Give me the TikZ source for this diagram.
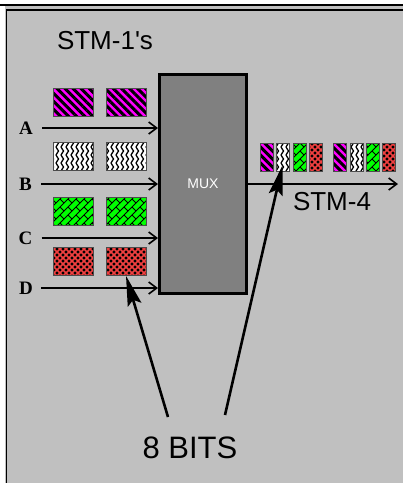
\documentclass[tikz,border=0pt]{standalone}
\usepackage{fontspec}
\setmainfont{Liberation Sans}
\newfontfamily\letterfont{Liberation Serif}
\usepackage{xcolor}
\usetikzlibrary{arrows.meta,patterns,patterns.meta}

\definecolor{panelgray}{RGB}{192,192,192}
\definecolor{muxgray}{RGB}{128,128,128}
\definecolor{bitmagenta}{RGB}{255,0,255}
\definecolor{bitgreen}{RGB}{0,255,0}
\definecolor{bitred}{RGB}{240,64,64}

% black zigzag columns
\pgfdeclarepatternformonly{zigzag}{\pgfqpoint{-1pt}{-1pt}}{\pgfqpoint{6pt}{9pt}}{\pgfqpoint{5pt}{8pt}}{
  \pgfsetlinewidth{1.3pt}
  \pgfpathmoveto{\pgfqpoint{1pt}{0pt}}
  \pgfpathlineto{\pgfqpoint{3.5pt}{4pt}}
  \pgfpathlineto{\pgfqpoint{1pt}{8pt}}
  \pgfusepath{stroke}
}
% slanted brick wall
\pgfdeclarepatternformonly{slantbricks}{\pgfqpoint{-1pt}{-1pt}}{\pgfqpoint{9pt}{9pt}}{\pgfqpoint{8pt}{8pt}}{
  \pgfsetlinewidth{0.9pt}
  \pgfpathmoveto{\pgfqpoint{0pt}{0pt}}
  \pgfpathlineto{\pgfqpoint{8pt}{8pt}}
  \pgfpathmoveto{\pgfqpoint{4pt}{4pt}}
  \pgfpathlineto{\pgfqpoint{8pt}{0pt}}
  \pgfusepath{stroke}
}
% woven strands
\pgfdeclarepatternformonly{weavegrid}{\pgfqpoint{-1pt}{-1pt}}{\pgfqpoint{7pt}{7pt}}{\pgfqpoint{6pt}{6pt}}{
  \pgfsetlinewidth{1.5pt}
  \pgfpathmoveto{\pgfqpoint{0pt}{0pt}}
  \pgfpathlineto{\pgfqpoint{6pt}{6pt}}
  \pgfpathmoveto{\pgfqpoint{0pt}{6pt}}
  \pgfpathlineto{\pgfqpoint{6pt}{0pt}}
  \pgfusepath{stroke}
}

\begin{document}
\begin{tikzpicture}[x=1pt, y=-1pt,
  cell/.style={draw=black!70, line width=0.7pt, inner sep=0pt, minimum height=28pt},
  bigcell/.style={cell, minimum width=40pt},
  slimcell/.style={cell, minimum width=13pt},
  stripes/.style={preaction={fill=bitmagenta}, pattern={Lines[angle=-45,distance=5.7pt,line width=3pt]}, pattern color=black},
  waves/.style={preaction={fill=white}, pattern=zigzag, pattern color=black},
  bricks/.style={preaction={fill=bitgreen}, pattern=slantbricks, pattern color=black},
  weave/.style={preaction={fill=black}, pattern=weavegrid, pattern color=bitred},
  letter/.style={inner sep=0pt, font=\letterfont\bfseries\fontsize{19}{20}\selectfont},
  inarrow/.style={line width=1.6pt, -{Straight Barb[length=8pt,width=12pt]}},
  bitarrow/.style={line width=2.6pt, -{Stealth[length=30pt,width=14pt,inset=5pt]}}]

\useasboundingbox (0,0) rectangle (403,483);

% panel
\fill[white] (0,0) rectangle (403,483);
\fill[panelgray] (5,5) rectangle (403,483);
\draw[line width=1.3pt] (0,5) -- (403,5);
\draw[line width=1.3pt] (6.5,483) -- (6.5,10) -- (403,10);

\node (stm1) at (105,41) {\fontsize{26}{30}\selectfont STM-1\textquotesingle s};

\node[draw, line width=3pt, fill=muxgray, minimum width=87pt, minimum height=219pt, text=white] (mux) at (203,184) {\fontsize{14}{16}\selectfont MUX};

% input bytes
\node[bigcell, stripes] (mag 1) at (73.5,102) {};
\node[bigcell, stripes] (mag 2) at (126,102) {};
\node[bigcell, waves] (wht 1) at (73.5,156.5) {};
\node[bigcell, waves] (wht 2) at (126,156.5) {};
\node[bigcell, bricks] (grn 1) at (73.5,211.5) {};
\node[bigcell, bricks] (grn 2) at (126,211.5) {};
\node[bigcell, weave] (red 1) at (73.5,261.5) {};
\node[bigcell, weave] (red 2) at (126,261.5) {};

% inputs
\node[letter] (lab a) at (26,128) {A};
\node[letter] (lab b) at (25.5,184) {B};
\node[letter] (lab c) at (25.5,238) {C};
\node[letter] (lab d) at (26,288) {D};

\draw[inarrow] ([xshift=9pt]lab a.east) -- (lab a -| mux.west);
\draw[inarrow] ([xshift=9pt]lab b.east) -- (lab b -| mux.west);
\draw[inarrow] ([xshift=9pt]lab c.east) -- (lab c -| mux.west);
\draw[inarrow] ([xshift=8pt]lab d.east) -- (lab d -| mux.west);

% output bytes
\node[slimcell, stripes] (out 1) at (266.5,157) {};
\node[slimcell, waves] (out 2) at (282.5,157) {};
\node[slimcell, bricks] (out 3) at (299.5,157) {};
\node[slimcell, weave] (out 4) at (315.5,157) {};
\node[slimcell, stripes] (out 5) at (339.5,157) {};
\node[slimcell, waves] (out 6) at (356.5,157) {};
\node[slimcell, bricks] (out 7) at (372.5,157) {};
\node[slimcell, weave] (out 8) at (389,157) {};

\coordinate (out end) at (398,184);
\draw[inarrow] (mux.east) -- (out end);
\node (stm4) at (332,202) {\fontsize{26}{30}\selectfont STM-4};

% bit size
\node (bits) at (190,448) {\fontsize{31}{34}\selectfont 8 BITS};
\coordinate (bits left) at (168,417);
\coordinate (bits right) at (225,415);
\draw[bitarrow] (bits left) -- (red 2.south);
\draw[bitarrow] (bits right) -- ([yshift=6pt]out 2.south);
\end{tikzpicture}
\end{document}
